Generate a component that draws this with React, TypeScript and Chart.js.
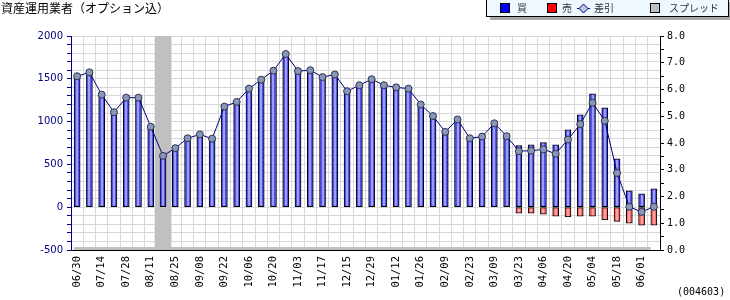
import React, { useEffect, useRef } from 'react';
import { Chart, registerables } from 'chart.js';
Chart.register(...registerables);

const titleText = '資産運用業者（オプション込）';
const codeText = '(004603)';

const categories = [
  '06/30', '07/07', '07/14', '07/21', '07/28', '08/04', '08/11', '08/18', '08/25', '09/01',
  '09/08', '09/15', '09/22', '09/29', '10/06', '10/13', '10/20', '10/27', '11/03', '11/10',
  '11/17', '12/08', '12/15', '12/22', '12/29', '01/05', '01/12', '01/19', '01/26', '02/02',
  '02/09', '02/16', '02/23', '03/02', '03/09', '03/16', '03/23', '03/30', '04/06', '04/13',
  '04/20', '04/27', '05/04', '05/11', '05/18', '05/25', '06/01', '06/08',
];

const buyValues = [
  1530, 1575, 1315, 1110, 1280, 1280, 940, 600, 690, 805,
  850, 800, 1175, 1230, 1385, 1490, 1595, 1790, 1590, 1600,
  1520, 1550, 1355, 1425, 1495, 1425, 1400, 1385, 1200, 1065,
  880, 1025, 805, 825, 980, 835, 720, 730, 755, 730,
  905, 1080, 1325, 1160, 565, 190, 155, 215,
];

const sellValues = [
  0, 0, 0, 0, 0, 0, 0, 0, 0, 0,
  0, 0, 0, 0, 0, 0, 0, 0, 0, 0,
  0, 0, 0, 0, 0, 0, 0, 0, 0, 0,
  0, 0, 0, 0, 0, 0, -70, -70, -80, -105,
  -115, -105, -105, -150, -165, -188, -210, -210,
];

const diffValues = [
  1530, 1575, 1315, 1110, 1280, 1280, 940, 600, 690, 805,
  850, 800, 1175, 1230, 1385, 1490, 1595, 1790, 1590, 1600,
  1520, 1550, 1355, 1425, 1495, 1425, 1400, 1385, 1200, 1065,
  880, 1025, 805, 825, 980, 830, 655, 660, 675, 625,
  790, 970, 1220, 1010, 400, 5, -55, 5,
];

const spreadWeeks = ['08/18'];
const spreadLevel = 8;

const leftTicks = { min: -500, max: 2000, step: 100, labelEvery: 500 };
const rightTicks = { min: 0, max: 8, step: 0.5 };

const stripePlugin = {
  id: 'stripe',
  afterDatasetDraw(chart: any, args: any) {
    const ds = chart.data.datasets[args.index];
    if (!ds.stripeColor) return;
    const ctx = chart.ctx;
    ctx.save();
    ctx.fillStyle = ds.stripeColor;
    for (const el of args.meta.data) {
      const p = el.getProps(['x', 'y', 'base'], true);
      if (p.y == null || isNaN(p.y)) continue;
      const top = Math.min(p.y, p.base);
      const bot = Math.max(p.y, p.base);
      if (bot - top < 3) continue;
      ctx.fillRect(Math.round(p.x) - 1, top + 1, 2, bot - top - 2);
    }
    ctx.restore();
  },
};

const floorPlugin = {
  id: 'floor',
  beforeDatasetsDraw(chart: any) {
    const { ctx, chartArea } = chart;
    ctx.save();
    ctx.fillStyle = '#c0c0c0';
    ctx.fillRect(chartArea.left + 3, chartArea.bottom - 3, chartArea.right - chartArea.left - 12, 3);
    ctx.restore();
  },
};

function Legend() {
  const box: React.CSSProperties = {
    position: 'absolute', left: 486, top: -1, width: 241, height: 16,
    border: '1px solid #000', background: '#f0f8ff', boxShadow: '4px 3px 0 #a8a8a8',
    fontFamily: '"Noto Sans CJK JP", sans-serif', fontSize: 10, color: '#333',
  };
  const sq = (left: number, color: string): React.CSSProperties => ({
    position: 'absolute', left, top: 3, width: 8, height: 8, background: color, border: '1px solid #000',
  });
  const txt = (left: number): React.CSSProperties => ({
    position: 'absolute', left, top: 0, lineHeight: '15px', whiteSpace: 'nowrap',
  });
  return (
    <div style={box}>
      <div style={sq(13, '#0000ff')} />
      <div style={txt(30)}>買</div>
      <div style={sq(60, '#ff0000')} />
      <div style={txt(75)}>売</div>
      <svg style={{ position: 'absolute', left: 90, top: 1 }} width="13" height="14">
        <line x1="0" y1="7.5" x2="13" y2="7.5" stroke="#000080" strokeWidth="1" />
        <polygon points="6.5,3 11,7.5 6.5,12 2,7.5" fill="#b8c8e0" stroke="#000080" strokeWidth="1" />
      </svg>
      <div style={txt(107)}>差引</div>
      <div style={sq(163, '#c0c0c0')} />
      <div style={txt(182)}>スプレッド</div>
    </div>
  );
}

export default function App() {
  const ref = useRef<HTMLCanvasElement | null>(null);
  useEffect(() => {
    if (!ref.current) return;
    const spreadData = categories.map((c) => (spreadWeeks.includes(c) ? spreadLevel : null));
    const chart = new Chart(ref.current, {
      type: 'bar',
      data: {
        labels: categories,
        datasets: [
          {
            type: 'line', label: '差引', data: diffValues, yAxisID: 'y', order: 0,
            borderColor: '#000080', borderWidth: 1, pointRadius: 3.5, pointBackgroundColor: '#8797b8',
            pointBorderColor: '#303050', pointBorderWidth: 1, tension: 0, fill: false,
          } as any,
          {
            type: 'bar', label: '買', data: buyValues, yAxisID: 'y', order: 1, grouped: false,
            backgroundColor: '#5252ee', borderColor: '#000', borderWidth: 1, borderSkipped: false,
            barThickness: 6, stripeColor: '#9c9cff',
          } as any,
          {
            type: 'bar', label: '売', data: sellValues, yAxisID: 'y', order: 1, grouped: false,
            backgroundColor: '#ff6a6a', borderColor: '#000', borderWidth: 1, borderSkipped: false,
            barThickness: 6, stripeColor: '#ffa0a0',
          } as any,
          {
            type: 'bar', label: 'スプレッド', data: spreadData, yAxisID: 'y1', order: 2, grouped: false,
            backgroundColor: '#c0c0c0', borderWidth: 0, barThickness: 16,
          } as any,
        ],
      },
      options: {
        animation: false,
        responsive: false,
        maintainAspectRatio: false,
        layout: { padding: { top: 36, left: 0, right: 0, bottom: 0 } },
        plugins: { legend: { display: false }, tooltip: { enabled: false }, title: { display: false } },
        scales: {
          x: {
            offset: true,
            grid: { color: '#d8d8d8', drawTicks: false, offset: true },
            border: { color: '#000', width: 1 },
            ticks: {
              autoSkip: false, maxRotation: 90, minRotation: 90, padding: 6, color: '#000',
              font: { family: '"DejaVu Sans Mono", monospace', size: 10.5 },
              callback: (_v: any, i: number) => (i % 2 === 0 ? categories[i] : ''),
            },
            afterFit: (s: any) => { s.height = 50; },
          },
          y: {
            position: 'left', min: leftTicks.min, max: leftTicks.max,
            ticks: {
              stepSize: leftTicks.step, autoSkip: false, color: '#000080', padding: 4,
              font: { family: '"DejaVu Sans", sans-serif', size: 10 },
              callback: (v: any) => (Number(v) % leftTicks.labelEvery === 0 ? String(v) : ''),
            },
            grid: { color: '#d8d8d8', tickColor: '#000080', tickLength: 4 },
            border: { color: '#000080' },
            afterFit: (s: any) => { s.width = 71; },
          },
          y1: {
            position: 'right', min: rightTicks.min, max: rightTicks.max,
            ticks: {
              stepSize: rightTicks.step, autoSkip: false, color: '#000', padding: 3,
              font: { family: '"DejaVu Sans Mono", monospace', size: 10 },
              callback: (v: any) => (Number.isInteger(Number(v)) ? Number(v).toFixed(1) : ''),
            },
            grid: { drawOnChartArea: false, tickColor: '#000', tickLength: 4 },
            border: { color: '#000' },
            afterFit: (s: any) => { s.width = 70; },
          },
        },
      } as any,
      plugins: [stripePlugin, floorPlugin],
    });
    return () => chart.destroy();
  }, []);

  return (
    <div style={{ position: 'fixed', left: 0, top: 0, width: 730, height: 300, background: '#fff', overflow: 'hidden' }}>
      <canvas ref={ref} width={730} height={300} style={{ position: 'absolute', left: 0, top: 0, display: 'block' }} />
      <div style={{ position: 'absolute', left: 1, top: 1, fontFamily: '"Noto Sans CJK JP", sans-serif', fontSize: 12, lineHeight: '14px', color: '#000', whiteSpace: 'nowrap' }}>
        {titleText}
      </div>
      <Legend />
      <div style={{ position: 'absolute', left: 677, top: 286, fontFamily: '"DejaVu Sans Mono", monospace', fontSize: 10, lineHeight: '12px', color: '#000' }}>
        {codeText}
      </div>
    </div>
  );
}
